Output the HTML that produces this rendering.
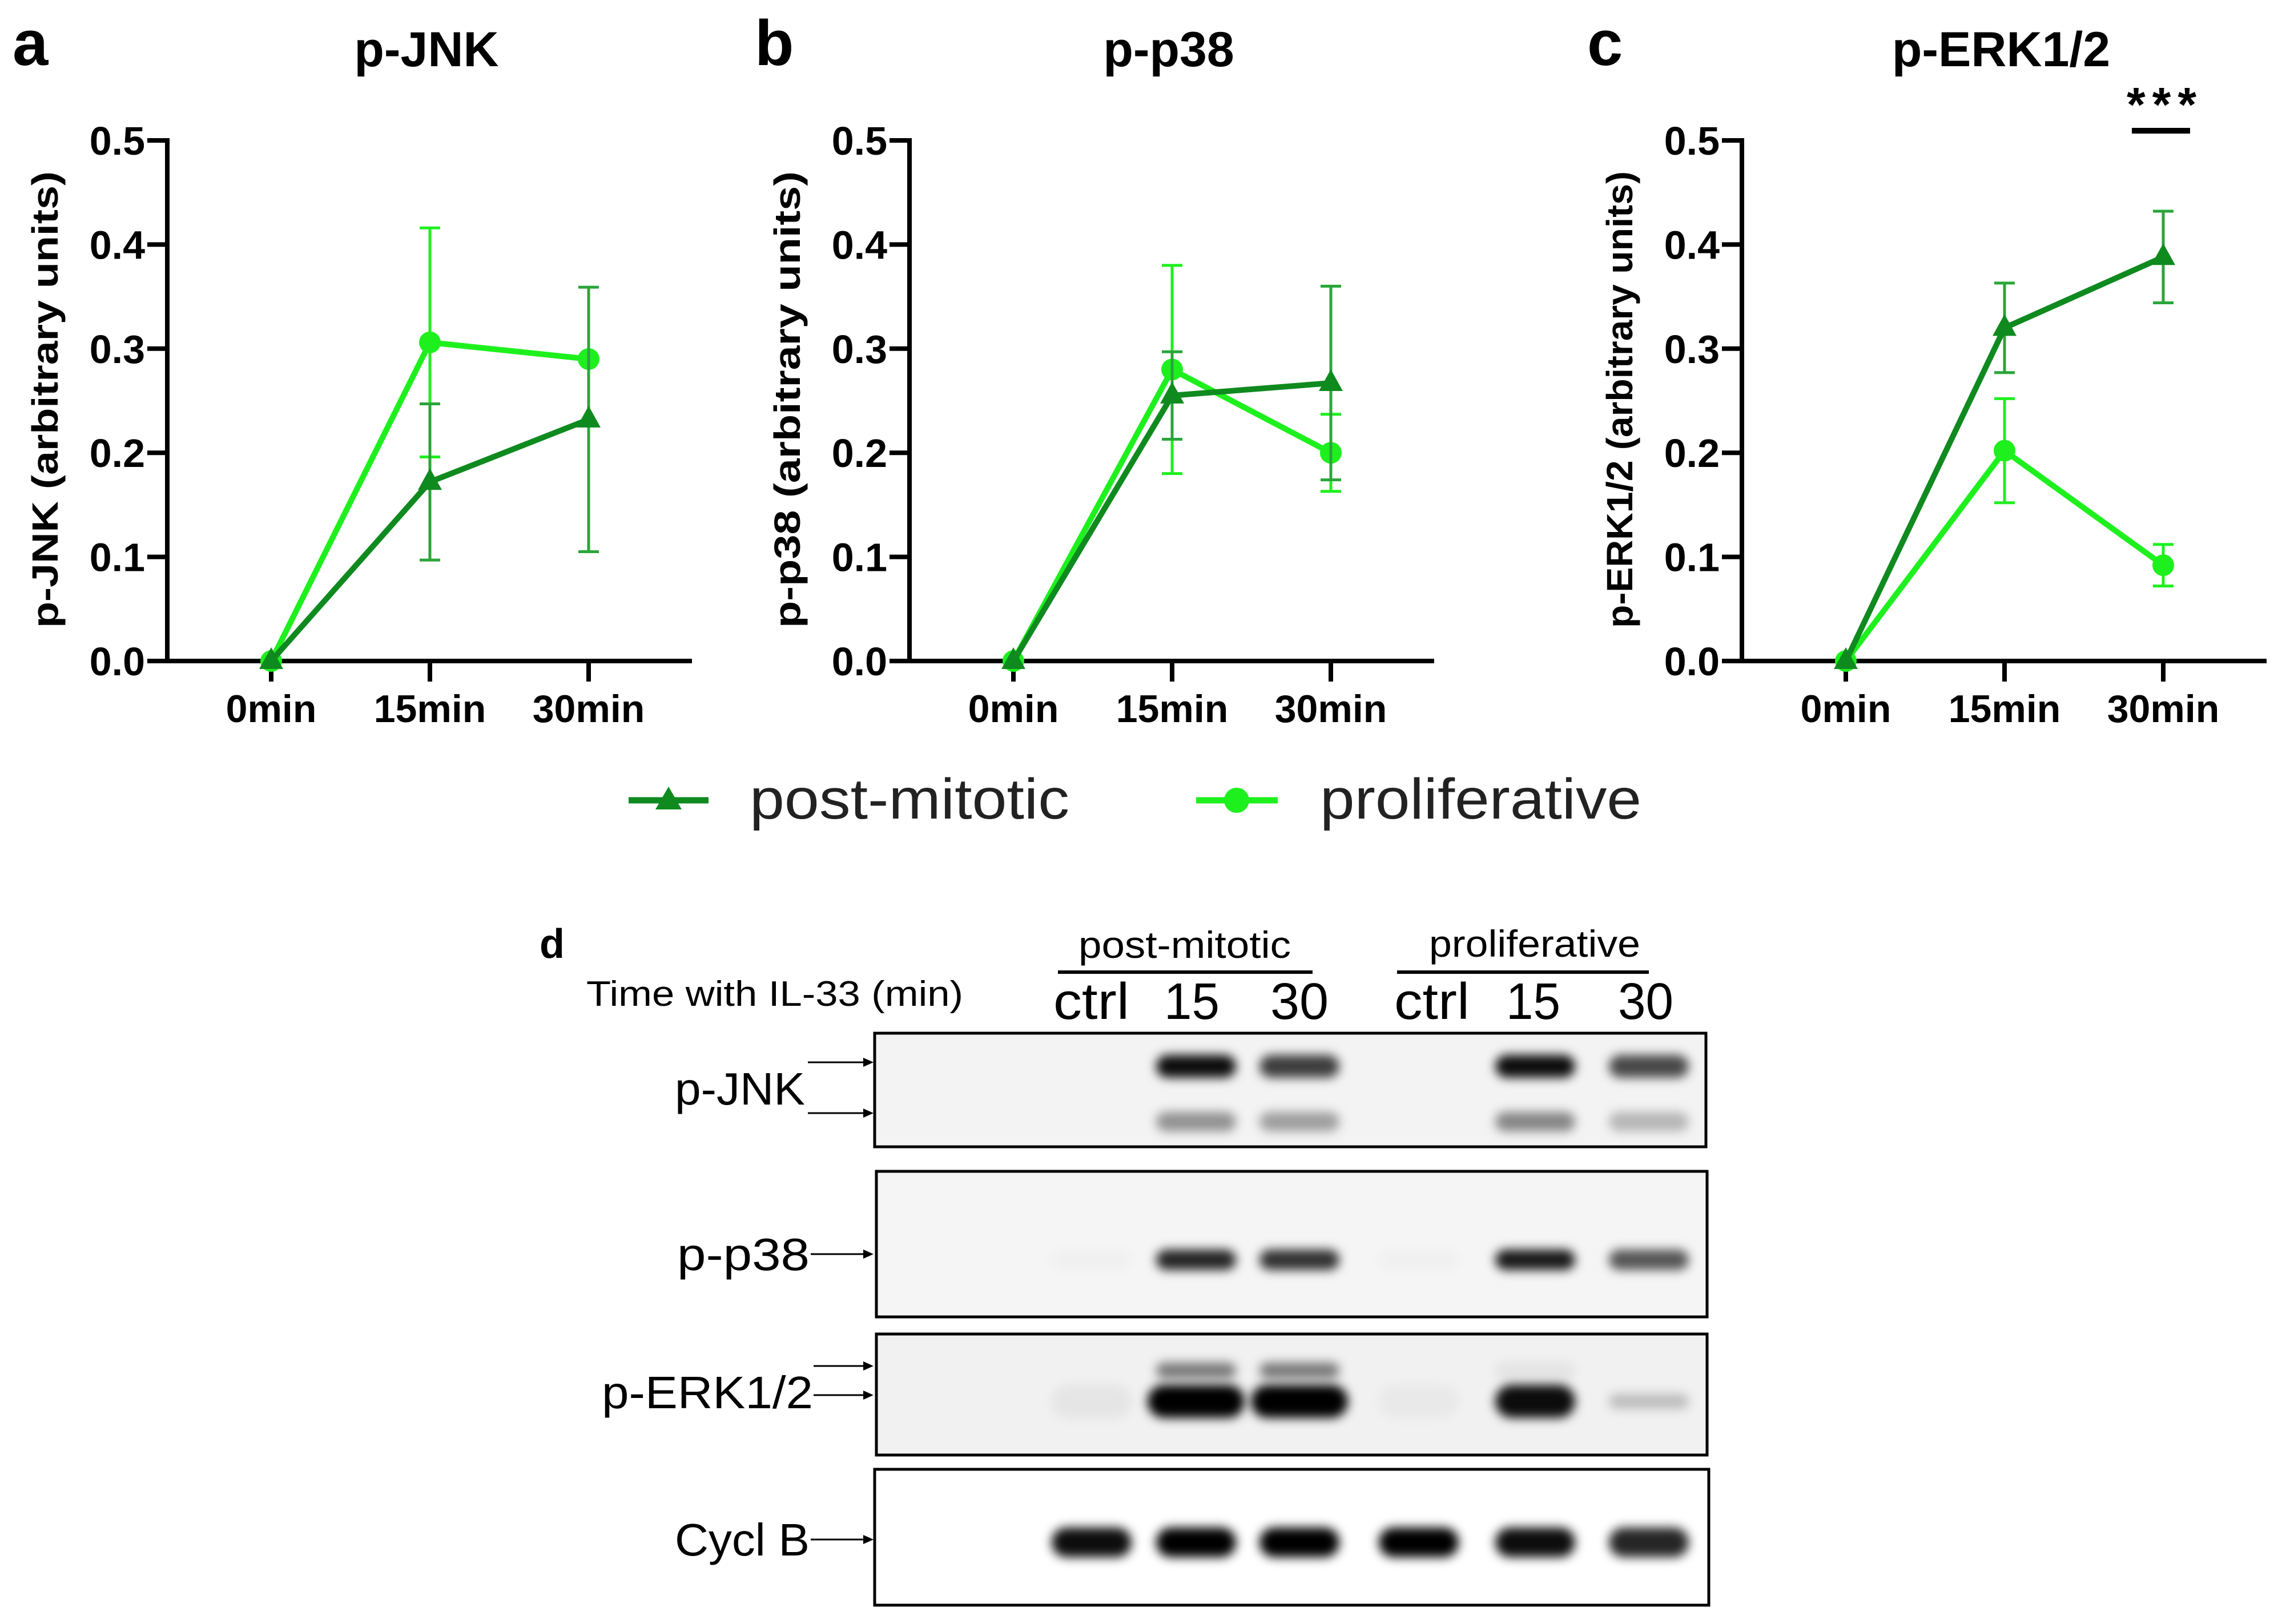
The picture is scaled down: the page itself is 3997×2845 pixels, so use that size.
<!DOCTYPE html>
<html><head><meta charset="utf-8"><style>
html,body{margin:0;padding:0;background:#fff}
svg{display:block}
text{font-family:"Liberation Sans",Arial,sans-serif}
</style></head><body>
<svg id="fig" width="3997" height="2845" viewBox="0 0 3997 2845" xmlns="http://www.w3.org/2000/svg">
<defs>
<filter id="blur" x="-50%" y="-100%" width="200%" height="300%"><feGaussianBlur stdDeviation="9"/></filter>
</defs>
<g id="charts"></g>
<g id="legend">
  <g>
    <line x1="1101" y1="1402" x2="1241" y2="1402" stroke="#0f8a1f" stroke-width="11"/>
    <polygon points="1171,1378 1194,1418 1148,1418" fill="#0f8a1f"/>
    <text x="1313" y="1434" font-size="100" fill="#222" textLength="560" lengthAdjust="spacingAndGlyphs">post-mitotic</text>
  </g>
  <g>
    <line x1="2095" y1="1402" x2="2238" y2="1402" stroke="#1ef01e" stroke-width="11"/>
    <circle cx="2166" cy="1402" r="22" fill="#1ef01e"/>
    <text x="2312" y="1434" font-size="100" fill="#222" textLength="563" lengthAdjust="spacingAndGlyphs">proliferative</text>
  </g>
</g>
<g id="blot">
  <text x="945" y="1678" font-size="72" font-weight="bold">d</text>
  <text x="1027" y="1762" font-size="62" textLength="660" lengthAdjust="spacingAndGlyphs">Time with IL-33 (min)</text>
  <text x="1889" y="1678" font-size="66" textLength="372" lengthAdjust="spacingAndGlyphs">post-mitotic</text>
  <line x1="1853" y1="1703" x2="2299" y2="1703" stroke="#000" stroke-width="6"/>
  <text x="2503" y="1676" font-size="66" textLength="370" lengthAdjust="spacingAndGlyphs">proliferative</text>
  <line x1="2447" y1="1703" x2="2888" y2="1703" stroke="#000" stroke-width="6"/>
  <g font-size="90">
    <text x="1845" y="1785" textLength="133" lengthAdjust="spacingAndGlyphs">ctrl</text>
    <text x="2039" y="1785" textLength="97" lengthAdjust="spacingAndGlyphs">15</text>
    <text x="2225" y="1785" textLength="102" lengthAdjust="spacingAndGlyphs">30</text>
    <text x="2442" y="1785" textLength="132" lengthAdjust="spacingAndGlyphs">ctrl</text>
    <text x="2638" y="1785" textLength="95" lengthAdjust="spacingAndGlyphs">15</text>
    <text x="2834" y="1785" textLength="97" lengthAdjust="spacingAndGlyphs">30</text>
  </g>
  <g id="boxes" fill="none" stroke="#000" stroke-width="5">
    <rect x="1532" y="1810" width="1456" height="199" fill="#f3f3f3"/>
    <rect x="1535" y="2052" width="1455" height="255" fill="#f5f5f5"/>
    <rect x="1535" y="2337" width="1455" height="212" fill="#f1f1f1"/>
    <rect x="1532" y="2574" width="1461" height="238" fill="#fff"/>
  </g>
  <g id="bands"></g>
  <g font-size="80" text-anchor="end">
    <text x="1410" y="1935" textLength="228" lengthAdjust="spacingAndGlyphs">p-JNK</text>
    <text x="1418" y="2225" textLength="232" lengthAdjust="spacingAndGlyphs">p-p38</text>
    <text x="1424" y="2467" textLength="370" lengthAdjust="spacingAndGlyphs">p-ERK1/2</text>
    <text x="1418" y="2725" textLength="236" lengthAdjust="spacingAndGlyphs">Cycl B</text>
  </g>
  <g id="arrows" stroke="#000" stroke-width="3"></g>
</g>
</svg>
<script>
const categories = ["0min","15min","30min"];
const yTicks = [0.0,0.1,0.2,0.3,0.4,0.5];
const titles = ["p-JNK","p-p38","p-ERK1/2"];
const letters = ["a","b","c"];
const postMitotic = [[0,0.172,0.232],[0,0.255,0.267],[0,0.320,0.388]];
const postMitoticErr = [[0,0.075,0.127],[0,0.042,0.093],[0,0.043,0.044]];
const proliferative = [[0,0.306,0.290],[0,0.280,0.200],[0,0.202,0.092]];
const proliferativeErr = [[0,0.110,0],[0,0.100,0.037],[0,0.050,0.020]];
const NS="http://www.w3.org/2000/svg";
function mk(tag,attrs,parent,txt){const e=document.createElementNS(NS,tag);for(const k in attrs)e.setAttribute(k,attrs[k]);if(txt!==undefined)e.textContent=txt;parent.appendChild(e);return e;}
const charts=document.getElementById('charts');
const offsets=[0,1300,2758];
const C1="#0f8a1f", C1e="#2aa53a", C2="#1ef01e";
const y0=1158, yTop=246;
function yS(v){return y0-(v/0.5)*(y0-yTop);}
function xS(i,dx){return dx+475+i*278;}
for(let p=0;p<3;p++){
  const dx=offsets[p];
  const g=mk('g',{},charts);
  
  
  const lt=mk('text',{x:dx+22,y:114,'font-size':112,'font-weight':'bold'},g,letters[p]);
  
  
  const tt=mk('text',{x:dx+747,y:116,'font-size':86,'font-weight':'bold','text-anchor':'middle'},g,titles[p]);
  
  
  const yl=mk('text',{x:0,y:0,'font-size':64,'font-weight':'bold','text-anchor':'middle',transform:`translate(${dx+101},700) rotate(-90)`,textLength:800,lengthAdjust:'spacingAndGlyphs'},g,titles[p]+' (arbitrary units)');
  
  
  const ax=mk('g',{stroke:'#000','stroke-width':8},g);
  
  
  mk('line',{x1:dx+293,y1:yTop-4,x2:dx+293,y2:y0+4},ax);
  mk('line',{x1:dx+289,y1:y0,x2:dx+1212,y2:y0},ax);
  yTicks.forEach(t=>{
    mk('line',{x1:dx+258,y1:yS(t),x2:dx+293,y2:yS(t)},ax);
    const tl=mk('text',{x:dx+254,y:yS(t)+25,'font-size':70,'font-weight':'bold','text-anchor':'end',stroke:'none'},g,t.toFixed(1));
    
    
  });
  categories.forEach((c,i)=>{
    mk('line',{x1:xS(i,dx),y1:y0,x2:xS(i,dx),y2:y0+36},ax);
    const cl=mk('text',{x:xS(i,dx),y:1265,'font-size':68,'font-weight':'bold','text-anchor':'middle'},g,c);
    
    
  });
  [[proliferative,proliferativeErr,C2,C2,'proliferative'],[postMitotic,postMitoticErr,C1,C1e,'post-mitotic']].forEach(([vals,errs,col,ecol,nm])=>{
    const sg=mk('g',{},g);
    
    
    vals[p].forEach((v,i)=>{
      const e=errs[p][i]; if(e<=0) return;
      const x=xS(i,dx);
      const eb=mk('path',{d:`M${x},${yS(v+e)}V${yS(v-e)}M${x-18},${yS(v+e)}H${x+18}M${x-18},${yS(v-e)}H${x+18}`,stroke:ecol,'stroke-width':5,fill:'none'},sg);
      
      
    });
    const pts=vals[p].map((v,i)=>xS(i,dx)+','+yS(v)).join(' ');
    const ln=mk('polyline',{points:pts,stroke:col,'stroke-width':10,fill:'none'},sg);
    
    
    vals[p].forEach((v,i)=>{
      const x=xS(i,dx),y=yS(v);
      let m;
      if(nm==='proliferative') m=mk('circle',{cx:x,cy:y,r:19,fill:col},sg);
      else m=mk('polygon',{points:`${x},${y-24} ${x+21},${y+14} ${x-21},${y+14}`,fill:col},sg);
      
      
    });
  });
}
const sig=mk('g',{},charts);


mk('text',{x:3792,y:212,'font-size':84,'font-weight':'bold','text-anchor':'middle','letter-spacing':'12'},sig,'***');
mk('line',{x1:3734,y1:229,x2:3836,y2:229,stroke:'#000','stroke-width':10},sig);
const laneX=[1912,2095,2276,2485,2689,2888];
const bands=[
 [1868,[0,0.95,0.75,0,0.95,0.7],40],
 [1965,[0,0.4,0.35,0,0.45,0.25],34],
 [2207,[0.02,0.85,0.8,0.02,0.9,0.65],36],
 [2401,[0,0.5,0.5,0,0.06,0],28],
 [2455,[0.05,1,1,0.03,0.95,0.22],58],
 [2702,[0.95,1,1,1,0.95,0.85],52]
];
const bg=document.getElementById('bands');
bands.forEach(([y,ints,h],bi)=>{
  ints.forEach((a,i)=>{
    if(a<=0)return;
    let w=(bi===4&&(i===1||i===2))?170:140;
    let hh=h;
    if(bi===4&&i===5){hh=26;}
    const r=mk('rect',{x:laneX[i]-w/2,y:y-hh/2,width:w,height:hh,rx:hh/2,fill:'#000','fill-opacity':a,filter:'url(#blur)'},bg);
    
    
  });
});
const ar=document.getElementById('arrows');
[[1861,1415],[1950,1415],[2197,1420],[2393,1425],[2444,1425],[2697,1420]].forEach(([y,x0])=>{
  mk('line',{x1:x0,y1:y,x2:1518,y2:y},ar);
  mk('polygon',{points:`1530,${y} 1512,${y-8} 1512,${y+8}`,fill:'#000',stroke:'none'},ar);
});
</script>
</body></html>
